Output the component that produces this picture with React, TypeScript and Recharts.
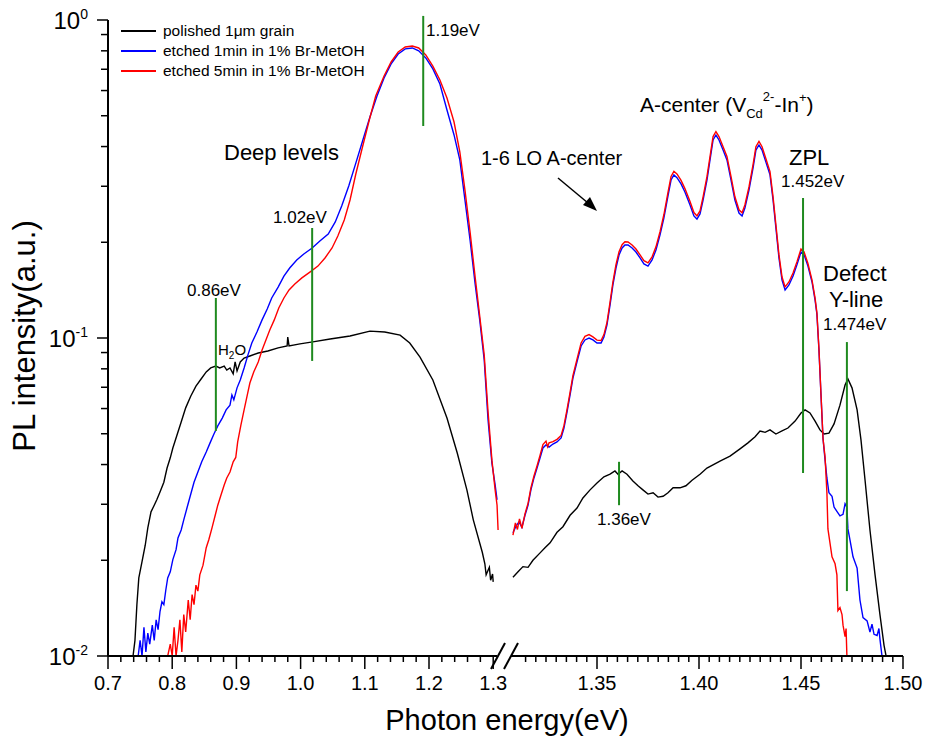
import React from 'react';
import { LineChart, Line, XAxis, YAxis, ReferenceLine } from 'recharts';

const FONT = "'Liberation Sans', Arial, sans-serif";

// [photon energy (eV), PL intensity (a.u.)]
const blackLeft: [number, number][] = [
  [0.739, 0.01], [0.742, 0.0112], [0.745, 0.0145], [0.748, 0.0176], [0.753, 0.0198], [0.758, 0.0223],
  [0.762, 0.0253], [0.767, 0.0284], [0.772, 0.0298], [0.776, 0.031], [0.781, 0.0328], [0.787, 0.0352],
  [0.792, 0.039], [0.797, 0.042], [0.801, 0.0451], [0.807, 0.0492], [0.814, 0.0544], [0.821, 0.0603],
  [0.829, 0.0657], [0.837, 0.0706], [0.845, 0.0743], [0.853, 0.0782], [0.86, 0.0805], [0.868, 0.0816],
  [0.874, 0.0805], [0.881, 0.0816], [0.885, 0.0793], [0.89, 0.0805], [0.895, 0.0771], [0.898, 0.0841],
  [0.901, 0.0788], [0.906, 0.0841], [0.912, 0.0865], [0.921, 0.0878], [0.934, 0.0897], [0.949, 0.091],
  [0.965, 0.0931], [0.979, 0.0944], [0.98, 0.1007], [0.982, 0.0944], [0.999, 0.0958], [1.019, 0.0972],
  [1.046, 0.0993], [1.077, 0.1015], [1.108, 0.1051], [1.131, 0.1044], [1.155, 0.1021], [1.17, 0.0964],
  [1.186, 0.0871], [1.206, 0.0738], [1.228, 0.056], [1.244, 0.0435], [1.259, 0.0333], [1.269, 0.0268],
  [1.283, 0.0212], [1.287, 0.0195], [1.289, 0.018], [1.292, 0.0186], [1.294, 0.019], [1.296, 0.0173],
  [1.299, 0.0181], [1.3, 0.0171],
];

const blackRight: [number, number][] = [
  [1.3088, 0.0177], [1.3113, 0.0184], [1.3137, 0.0191], [1.3162, 0.019], [1.3186, 0.02], [1.3221, 0.0211],
  [1.3245, 0.0219], [1.327, 0.0227], [1.3304, 0.0245], [1.3333, 0.0255], [1.3368, 0.0277], [1.3402, 0.0292],
  [1.3431, 0.0314], [1.3466, 0.0333], [1.35, 0.035], [1.3534, 0.0366], [1.3564, 0.0373], [1.3588, 0.0382],
  [1.3603, 0.0373], [1.3623, 0.0382], [1.3647, 0.0373], [1.3676, 0.0355], [1.3701, 0.0343], [1.3725, 0.0333],
  [1.375, 0.0323], [1.3775, 0.0326], [1.3799, 0.0316], [1.3824, 0.0318], [1.3848, 0.0326], [1.3873, 0.0338],
  [1.3907, 0.0338], [1.3936, 0.0343], [1.3966, 0.0357], [1.4005, 0.0373], [1.4039, 0.039], [1.4103, 0.041],
  [1.4152, 0.0425], [1.4201, 0.0448], [1.424, 0.0468], [1.4275, 0.0489], [1.4299, 0.051], [1.4324, 0.0505],
  [1.4348, 0.0514], [1.4377, 0.0499], [1.4407, 0.051], [1.4436, 0.0521], [1.4471, 0.0548], [1.45, 0.0581],
  [1.452, 0.0594], [1.4544, 0.0581], [1.4569, 0.0548], [1.4593, 0.0514], [1.4613, 0.0499], [1.4637, 0.0502],
  [1.4662, 0.0537], [1.4691, 0.0615], [1.4716, 0.0711], [1.473, 0.0743], [1.475, 0.0697], [1.4775, 0.0594],
  [1.4794, 0.0478], [1.4814, 0.0357], [1.4838, 0.0249], [1.4863, 0.018], [1.4887, 0.0135], [1.4907, 0.0108],
  [1.4917, 0.01],
];

const blueLeft: [number, number][] = [
  [0.747, 0.01], [0.75, 0.0112], [0.753, 0.01], [0.756, 0.0123], [0.759, 0.0103], [0.762, 0.0118],
  [0.765, 0.0109], [0.769, 0.0125], [0.772, 0.0112], [0.775, 0.013], [0.778, 0.0121], [0.781, 0.0138],
  [0.784, 0.0148], [0.787, 0.0145], [0.79, 0.0161], [0.793, 0.0176], [0.797, 0.0184], [0.801, 0.0201],
  [0.806, 0.0216], [0.809, 0.0235], [0.814, 0.0249], [0.818, 0.0268], [0.823, 0.0292], [0.828, 0.0318],
  [0.834, 0.0352], [0.84, 0.0379], [0.846, 0.0408], [0.853, 0.0438], [0.859, 0.0468], [0.865, 0.0499],
  [0.871, 0.0529], [0.878, 0.056], [0.884, 0.0594], [0.89, 0.0615], [0.893, 0.0662], [0.896, 0.0639],
  [0.901, 0.0697], [0.906, 0.0738], [0.912, 0.0805], [0.918, 0.0885], [0.924, 0.0964], [0.932, 0.1044],
  [0.94, 0.114], [0.948, 0.1233], [0.955, 0.1336], [0.965, 0.1446], [0.974, 0.1566], [0.983, 0.166],
  [0.994, 0.176], [1.005, 0.1837], [1.018, 0.1919], [1.03, 0.2018], [1.043, 0.2123], [1.054, 0.2317],
  [1.064, 0.26], [1.075, 0.3006], [1.086, 0.3548], [1.097, 0.4195], [1.108, 0.4955], [1.119, 0.5768],
  [1.13, 0.6574], [1.141, 0.7275], [1.152, 0.7817], [1.163, 0.811], [1.174, 0.8166], [1.184, 0.7998],
  [1.195, 0.7598], [1.206, 0.7015], [1.217, 0.6292], [1.228, 0.521], [1.239, 0.435], [1.248, 0.363],
  [1.256, 0.272], [1.264, 0.203], [1.272, 0.147], [1.279, 0.114], [1.286, 0.0853], [1.292, 0.0552],
  [1.298, 0.0404], [1.303, 0.0345], [1.306, 0.031],
];

const redLeft: [number, number][] = [
  [0.793, 0.01], [0.797, 0.0109], [0.8, 0.01], [0.803, 0.0123], [0.806, 0.01], [0.809, 0.0112],
  [0.812, 0.013], [0.815, 0.0103], [0.818, 0.0135], [0.821, 0.0119], [0.825, 0.015], [0.828, 0.013],
  [0.831, 0.0156], [0.834, 0.0145], [0.837, 0.0167], [0.84, 0.016], [0.843, 0.018], [0.848, 0.0193],
  [0.853, 0.0219], [0.857, 0.0232], [0.862, 0.0253], [0.867, 0.0277], [0.871, 0.0298], [0.876, 0.0321],
  [0.881, 0.0345], [0.885, 0.0363], [0.89, 0.0379], [0.895, 0.0408], [0.899, 0.0421], [0.902, 0.0471],
  [0.907, 0.0532], [0.912, 0.0594], [0.917, 0.0662], [0.921, 0.0722], [0.927, 0.0782], [0.934, 0.0841],
  [0.94, 0.0917], [0.946, 0.0986], [0.952, 0.106], [0.959, 0.114], [0.966, 0.1243], [0.974, 0.1336],
  [0.982, 0.1416], [0.991, 0.1479], [1.002, 0.1545], [1.015, 0.1614], [1.027, 0.1683], [1.038, 0.1785],
  [1.049, 0.1919], [1.058, 0.2094], [1.068, 0.235], [1.077, 0.2716], [1.086, 0.3279], [1.096, 0.3957],
  [1.107, 0.4849], [1.117, 0.5768], [1.13, 0.6668], [1.141, 0.7379], [1.152, 0.7931], [1.163, 0.8222],
  [1.174, 0.828], [1.184, 0.8166], [1.195, 0.7762], [1.206, 0.7164], [1.217, 0.6477], [1.228, 0.5684],
  [1.239, 0.4777], [1.248, 0.3846], [1.256, 0.2917], [1.264, 0.2153], [1.272, 0.1545], [1.279, 0.1173],
  [1.286, 0.0885], [1.292, 0.0585], [1.298, 0.0413], [1.303, 0.0333], [1.306, 0.0298], [1.3076, 0.0249],
];

const blueRight: [number, number][] = [
  [1.3088, 0.0244], [1.3103, 0.0256], [1.3118, 0.0264], [1.3132, 0.0254], [1.3147, 0.0277], [1.3162, 0.0298],
  [1.3176, 0.0333], [1.3191, 0.0363], [1.3206, 0.039], [1.3221, 0.042], [1.3235, 0.0451], [1.325, 0.0461],
  [1.3265, 0.0454], [1.3284, 0.0464], [1.3304, 0.0471], [1.3324, 0.0485], [1.3338, 0.0521], [1.3353, 0.0585],
  [1.3368, 0.0662], [1.3382, 0.0748], [1.3402, 0.0841], [1.3422, 0.0944], [1.3441, 0.0986], [1.3461, 0.1],
  [1.348, 0.0986], [1.35, 0.0964], [1.352, 0.0964], [1.3534, 0.1007], [1.3549, 0.1099], [1.3564, 0.127],
  [1.3578, 0.1468], [1.3593, 0.166], [1.3608, 0.1824], [1.3623, 0.1919], [1.3637, 0.1961], [1.3652, 0.1961],
  [1.3672, 0.1919], [1.3691, 0.1864], [1.3711, 0.1785], [1.373, 0.171], [1.375, 0.1683], [1.377, 0.176],
  [1.3789, 0.1892], [1.3809, 0.2109], [1.3828, 0.2385], [1.3848, 0.2797], [1.3863, 0.3139], [1.3877, 0.3258],
  [1.3892, 0.3193], [1.3912, 0.3051], [1.3931, 0.2877], [1.3956, 0.2618], [1.3975, 0.2421], [1.399, 0.2366],
  [1.4005, 0.2455], [1.402, 0.2716], [1.4039, 0.3139], [1.4054, 0.3631], [1.4069, 0.4195], [1.4083, 0.4348],
  [1.4098, 0.4195], [1.4118, 0.3899], [1.4137, 0.3631], [1.4157, 0.3139], [1.4176, 0.2716], [1.4196, 0.2472],
  [1.4211, 0.2421], [1.4225, 0.2564], [1.4245, 0.2917], [1.4265, 0.3425], [1.4279, 0.3899], [1.4294, 0.4045],
  [1.4309, 0.3899], [1.4328, 0.3573], [1.4348, 0.3258], [1.4363, 0.2716], [1.4377, 0.2218], [1.4392, 0.1785],
  [1.4407, 0.1521], [1.4422, 0.1416], [1.4441, 0.1468], [1.4461, 0.1566], [1.448, 0.1698], [1.45, 0.1864],
  [1.4515, 0.1828], [1.4534, 0.1683], [1.4554, 0.15], [1.4569, 0.1316], [1.4578, 0.1188], [1.4588, 0.0917],
  [1.4598, 0.0662], [1.4608, 0.0482], [1.4618, 0.0413], [1.4627, 0.0363], [1.4637, 0.0326], [1.4652, 0.0318],
  [1.4662, 0.0294], [1.4676, 0.0285], [1.4691, 0.0276], [1.4706, 0.0279], [1.4716, 0.0301], [1.4725, 0.0294],
  [1.473, 0.0251], [1.474, 0.0232], [1.4755, 0.0205], [1.4775, 0.0189], [1.4789, 0.015], [1.4804, 0.0132],
  [1.4824, 0.0129], [1.4838, 0.0119], [1.4848, 0.0126], [1.4858, 0.0117], [1.4873, 0.0116], [1.4882, 0.0122],
  [1.4887, 0.0113], [1.4897, 0.01],
];

const redRight: [number, number][] = [
  [1.3088, 0.024], [1.31, 0.0262], [1.311, 0.025], [1.312, 0.027], [1.3132, 0.0252], [1.3147, 0.028],
  [1.3162, 0.0302], [1.3176, 0.0338], [1.3191, 0.0368], [1.3206, 0.0396], [1.3221, 0.0428], [1.3235, 0.0462],
  [1.325, 0.0474], [1.3258, 0.0455], [1.3265, 0.0468], [1.3284, 0.0472], [1.3304, 0.048], [1.3324, 0.0494],
  [1.3338, 0.053], [1.3353, 0.0595], [1.3368, 0.0675], [1.3382, 0.0762], [1.3402, 0.0858], [1.3422, 0.0965],
  [1.3441, 0.1012], [1.3461, 0.1025], [1.348, 0.1008], [1.35, 0.0985], [1.352, 0.0982], [1.3534, 0.1025],
  [1.3549, 0.112], [1.3564, 0.1298], [1.3578, 0.15], [1.3593, 0.17], [1.3608, 0.1868], [1.3623, 0.1965],
  [1.3637, 0.2008], [1.3652, 0.2005], [1.3672, 0.1962], [1.3691, 0.1905], [1.3711, 0.1825], [1.373, 0.175],
  [1.375, 0.1722], [1.377, 0.18], [1.3789, 0.1935], [1.3809, 0.216], [1.3828, 0.2445], [1.3848, 0.287],
  [1.3863, 0.322], [1.3877, 0.3345], [1.3892, 0.328], [1.3912, 0.313], [1.3931, 0.295], [1.3956, 0.2685],
  [1.3975, 0.248], [1.399, 0.242], [1.4005, 0.251], [1.402, 0.278], [1.4039, 0.3215], [1.4054, 0.372],
  [1.4069, 0.43], [1.4083, 0.446], [1.4098, 0.43], [1.4118, 0.3995], [1.4137, 0.372], [1.4157, 0.3215],
  [1.4176, 0.278], [1.4196, 0.253], [1.4211, 0.2475], [1.4225, 0.262], [1.4245, 0.2985], [1.4265, 0.351],
  [1.4279, 0.3995], [1.4294, 0.415], [1.4309, 0.3995], [1.4328, 0.366], [1.4348, 0.3335], [1.4363, 0.278],
  [1.4377, 0.227], [1.4392, 0.1825], [1.4407, 0.1555], [1.4422, 0.1448], [1.4441, 0.15], [1.4461, 0.16],
  [1.448, 0.1735], [1.45, 0.1905], [1.4515, 0.1865], [1.4534, 0.1715], [1.4554, 0.152], [1.4569, 0.1335],
  [1.4578, 0.12], [1.4588, 0.0925], [1.4598, 0.0665], [1.4608, 0.0482], [1.4618, 0.0422], [1.4627, 0.0326],
  [1.4632, 0.0251], [1.4652, 0.0205], [1.4667, 0.0195], [1.4676, 0.018], [1.4681, 0.0139], [1.4691, 0.0142],
  [1.4701, 0.0135], [1.4706, 0.0125], [1.4716, 0.0115], [1.4721, 0.0122], [1.4725, 0.01],
];

// green marker segments: [energy, top intensity, bottom intensity, right of break?]
const markers: [number, number, number, boolean][] = [
  [0.868, 0.1336, 0.051, false],
  [1.018, 0.2218, 0.0847, false],
  [1.191, 1.03, 0.4642, false],
  [1.3608, 0.0408, 0.0298, true],
  [1.451, 0.2757, 0.0376, true],
  [1.4725, 0.0971, 0.016, true],
];

const leftMajorLabels = ['0.7', '0.8', '0.9', '1.0', '1.1', '1.2', '1.3'];
const rightMajorLabels = ['1.35', '1.40', '1.45', '1.50'];
const yMajorTicks = [0.01, 0.1, 1];
const yMajorExps = ['-2', '-1', '0'];

// broken x axis: 0.7-1.3 eV at 642 px/eV, then 1.3-1.5 eV at 2040 px/eV
const LEFT_PX = 642;
const RIGHT_PX = 2040;
const toT = (e: number, right: boolean) => (right ? 0.7 + (387 + (e - 1.3) * RIGHT_PX) / LEFT_PX : e);
const T_MAX = toT(1.5, true);

const rows = (pts: [number, number][], right: boolean) => pts.map(([e, v]) => ({ t: toT(e, right), v }));

const xTickMeta: { t: number; label?: string }[] = [];
for (let i = 0; i <= 30; i++) {
  xTickMeta.push({ t: 0.7 + i * 0.02, label: i % 5 === 0 ? leftMajorLabels[i / 5] : undefined });
}
for (let i = 3; i <= 40; i++) {
  xTickMeta.push({ t: toT(1.3 + i * 0.005, true), label: i % 10 === 0 ? rightMajorLabels[i / 10 - 1] : undefined });
}
const xTicks = xTickMeta.map((d) => d.t);

const yTicks: number[] = [];
[0.01, 0.1].forEach((d) => {
  for (let k = 1; k <= 9; k++) yTicks.push(d * k);
});
yTicks.push(1);

function XTick(props: any) {
  const { x, y, payload } = props;
  const m = xTickMeta.find((d) => Math.abs(d.t - payload.value) < 1e-6);
  if (!m) return null;
  return (
    <g>
      <line x1={x} x2={x} y1={y} y2={y + (m.label ? 13 : 6)} stroke="#000" strokeWidth={1.5} />
      {m.label && (
        <text x={x} y={y + 34} textAnchor="middle" fontSize={20} fontFamily={FONT} fill="#000">
          {m.label}
        </text>
      )}
    </g>
  );
}

function YTick(props: any) {
  const { x, y, payload } = props;
  const idx = yMajorTicks.findIndex((d) => Math.abs(d - payload.value) < 1e-9);
  const major = idx >= 0;
  return (
    <g>
      <line x1={x - (major ? 11 : 7)} x2={x} y1={y} y2={y} stroke="#000" strokeWidth={1.5} />
      {major && (
        <text x={x - 20} y={y + 9} textAnchor="end" fontFamily={FONT} fill="#000">
          <tspan fontSize={24}>10</tspan>
          <tspan fontSize={14} dy={-10}>{yMajorExps[idx]}</tspan>
        </text>
      )}
    </g>
  );
}

const lineProps = { dataKey: 'v', dot: false, activeDot: false, isAnimationActive: false, strokeWidth: 1.4, type: 'linear' as const };

export default function App() {
  const txt = { fontFamily: FONT, fill: '#000' };
  // the wrapper is pulled up over the body margin so the chart svg starts at the page top
  return (
    <div style={{ position: 'relative', width: 915, height: 738, marginTop: -8, fontFamily: FONT }}>
      <LineChart width={915} height={738} margin={{ top: 20, right: 20, left: 0, bottom: 42 }}>
        <XAxis
          type="number"
          dataKey="t"
          domain={[0.7, T_MAX]}
          ticks={xTicks}
          interval={0}
          tick={(p: any) => <XTick {...p} />}
          tickLine={false}
          tickSize={0}
          tickMargin={0}
          height={40}
          axisLine={{ stroke: '#000', strokeWidth: 2 }}
          allowDataOverflow
        />
        <YAxis
          type="number"
          scale="log"
          domain={[0.01, 1]}
          ticks={yTicks}
          interval={0}
          tick={(p: any) => <YTick {...p} />}
          tickLine={false}
          tickSize={0}
          tickMargin={0}
          width={100}
          axisLine={{ stroke: '#000', strokeWidth: 2 }}
          allowDataOverflow
        />
        <Line {...lineProps} data={rows(blackLeft, false)} stroke="#000000" />
        <Line {...lineProps} data={rows(blackRight, true)} stroke="#000000" />
        <Line {...lineProps} data={rows(blueLeft, false)} stroke="#0000ff" />
        <Line {...lineProps} data={rows(blueRight, true)} stroke="#0000ff" />
        <Line {...lineProps} data={rows(redLeft, false)} stroke="#ff0000" />
        <Line {...lineProps} data={rows(redRight, true)} stroke="#ff0000" />
        {markers.map(([e, v1, v2, right], i) => (
          <ReferenceLine
            key={i}
            segment={[{ x: toT(e, right), y: v1 }, { x: toT(e, right), y: v2 }]}
            stroke="#1f8a1f"
            strokeWidth={2}
            ifOverflow="visible"
          />
        ))}
      </LineChart>

      <svg
        width={931}
        height={746}
        style={{ position: 'absolute', left: -8, top: 0, pointerEvents: 'none' }}
      >
        {/* legend */}
        <line x1={121} x2={156} y1={31} y2={31} stroke="#000" strokeWidth={2} />
        <line x1={121} x2={156} y1={51} y2={51} stroke="#0000ff" strokeWidth={2} />
        <line x1={121} x2={156} y1={71} y2={71} stroke="#ff0000" strokeWidth={2} />
        <text x={163} y={36} fontSize={15.5} {...txt}>polished 1μm grain</text>
        <text x={163} y={56} fontSize={15.5} {...txt}>etched 1min in 1% Br-MetOH</text>
        <text x={163} y={76} fontSize={15.5} {...txt}>etched 5min in 1% Br-MetOH</text>

        {/* axis break */}
        <rect x={497} y={649} width={14} height={14} fill="#fff" />
        <line x1={491} y1={669} x2={505} y2={643} stroke="#000" strokeWidth={2} />
        <line x1={504} y1={669} x2={518} y2={643} stroke="#000" strokeWidth={2} />

        {/* axis titles */}
        <text x={507} y={730} fontSize={29} textAnchor="middle" {...txt}>Photon energy(eV)</text>
        <text x={35} y={336} fontSize={31} textAnchor="middle" transform="rotate(-90 35 336)" {...txt}>
          PL intensity(a.u.)
        </text>

        {/* annotations */}
        <text x={426} y={36} fontSize={17} {...txt}>1.19eV</text>
        <text x={224} y={160} fontSize={22} {...txt}>Deep levels</text>
        <text x={273} y={223} fontSize={17} {...txt}>1.02eV</text>
        <text x={187} y={296} fontSize={17} {...txt}>0.86eV</text>
        <text x={218} y={355} {...txt}>
          <tspan fontSize={15}>H</tspan>
          <tspan fontSize={10} dy={4}>2</tspan>
          <tspan fontSize={15} dy={-4}>O</tspan>
        </text>
        <text x={481} y={165} fontSize={20} {...txt}>1-6 LO A-center</text>
        <line x1={558} y1={178} x2={588} y2={203} stroke="#000" strokeWidth={1.5} />
        <polygon points="597,211 583,205 590,197" fill="#000" />
        <text x={640} y={112} {...txt}>
          <tspan fontSize={21}>A-center (V</tspan>
          <tspan fontSize={13} dy={6}>Cd</tspan>
          <tspan fontSize={13} dy={-17}>2-</tspan>
          <tspan fontSize={21} dy={11}>-In</tspan>
          <tspan fontSize={13} dy={-10}>+</tspan>
          <tspan fontSize={21} dy={10}>)</tspan>
        </text>
        <text x={789} y={165} fontSize={22} {...txt}>ZPL</text>
        <text x={781} y={187} fontSize={17} {...txt}>1.452eV</text>
        <text x={823} y={281} fontSize={22} {...txt}>Defect</text>
        <text x={829} y={307} fontSize={22} {...txt}>Y-line</text>
        <text x={823} y={330} fontSize={17} {...txt}>1.474eV</text>
        <text x={597} y={525} fontSize={17} {...txt}>1.36eV</text>
      </svg>
    </div>
  );
}
